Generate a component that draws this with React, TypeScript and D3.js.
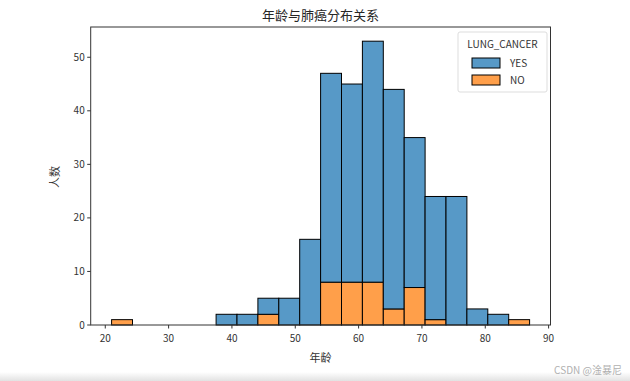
import React from "react";
import * as d3 from "d3";

const binStart = 21;
const binEnd = 87;
const binCount = 20;
const yesCounts = [0, 0, 0, 0, 0, 2, 2, 3, 5, 16, 39, 37, 45, 41, 28, 23, 24, 3, 2, 0];
const noCounts = [1, 0, 0, 0, 0, 0, 0, 2, 0, 0, 8, 8, 8, 3, 7, 1, 0, 0, 0, 1];
const xTicks = [20, 30, 40, 50, 60, 70, 80, 90];
const yTicks = [0, 10, 20, 30, 40, 50];
const hueLabels = ["YES", "NO"];
const title = "年龄与肺癌分布关系";
const xLabel = "年龄";
const yLabel = "人数";
const legendTitle = "LUNG_CANCER";

const W = 630;
const H = 381;
const FONT = "'Noto Sans CJK SC', 'DejaVu Sans', sans-serif";
const BLUE = "rgb(87,153,199)";
const ORANGE = "rgb(255,159,74)";

export default function App() {
  const left = 90.7, right = 550.5, top = 27, bottom = 325;
  const width = (binEnd - binStart) / binCount;
  const edges = d3.range(binCount + 1).map((i) => binStart + i * width);
  const pad = (binEnd - binStart) * 0.05;
  const x = d3.scaleLinear().domain([binStart - pad, binEnd + pad]).range([left, right]);
  const totals = yesCounts.map((v, i) => v + noCounts[i]);
  const yMax = (d3.max(totals) as number) * 1.05;
  const y = d3.scaleLinear().domain([0, yMax]).range([bottom, top]);

  const bars: React.ReactNode[] = [];
  for (let i = 0; i < binCount; i++) {
    const x0 = x(edges[i]);
    const x1 = x(edges[i + 1]);
    if (noCounts[i] > 0) {
      bars.push(
        <rect key={"n" + i} x={x0} y={y(noCounts[i])} width={x1 - x0} height={y(0) - y(noCounts[i])}
          fill={ORANGE} stroke="#000" strokeWidth={1} />
      );
    }
    if (yesCounts[i] > 0) {
      bars.push(
        <rect key={"y" + i} x={x0} y={y(totals[i])} width={x1 - x0} height={y(noCounts[i]) - y(totals[i])}
          fill={BLUE} stroke="#000" strokeWidth={1} />
      );
    }
  }

  return (
    <svg width={W} height={H} style={{ position: "absolute", left: 0, top: 0 }} fontFamily={FONT}>
      <defs>
        <linearGradient id="bot" x1="0" y1="0" x2="0" y2="1">
          <stop offset="0" stopColor="#ffffff" />
          <stop offset="1" stopColor="#e2e2e2" />
        </linearGradient>
      </defs>
      <rect x={0} y={0} width={W} height={H} fill="#fff" />
      <rect x={0} y={372} width={W} height={9} fill="url(#bot)" />
      <text x={(left + right) / 2} y={20} textAnchor="middle" fontSize={13} fill="#262626">{title}</text>
      {bars}
      {/* spines */}
      <rect x={left} y={top} width={right - left} height={bottom - top} fill="none" stroke="#333" strokeWidth={1} />
      {xTicks.map((t) => (
        <g key={"xt" + t}>
          <line x1={x(t)} x2={x(t)} y1={bottom} y2={bottom + 3.5} stroke="#333" />
          <text x={x(t)} y={bottom + 17} textAnchor="middle" fontSize={10} fill="#333">{t}</text>
        </g>
      ))}
      {yTicks.map((t) => (
        <g key={"yt" + t}>
          <line x1={left - 3.5} x2={left} y1={y(t)} y2={y(t)} stroke="#333" />
          <text x={left - 6} y={y(t) + 3.5} textAnchor="end" fontSize={10} fill="#333">{t}</text>
        </g>
      ))}
      <text x={(left + right) / 2} y={362} textAnchor="middle" fontSize={11} fill="#333">{xLabel}</text>
      <text transform={`translate(59,177) rotate(-90)`} textAnchor="middle" fontSize={11} fill="#333">{yLabel}</text>
      {/* legend */}
      <rect x={458} y={32} width={89} height={60} rx={2} fill="#fff" stroke="#ddd" strokeWidth={1} />
      <text x={502.5} y={48} textAnchor="middle" fontSize={10} fill="#333">{legendTitle}</text>
      {hueLabels.map((l, i) => (
        <g key={l}>
          <rect x={472} y={58 + i * 17} width={28} height={10} fill={i === 0 ? BLUE : ORANGE} stroke="#000" strokeWidth={1} />
          <text x={510} y={67 + i * 17} fontSize={10} fill="#333">{l}</text>
        </g>
      ))}
      <text x={622} y={374} textAnchor="end" fontSize={10} fill="#b0b0b0">CSDN @淦暴尼</text>
    </svg>
  );
}
